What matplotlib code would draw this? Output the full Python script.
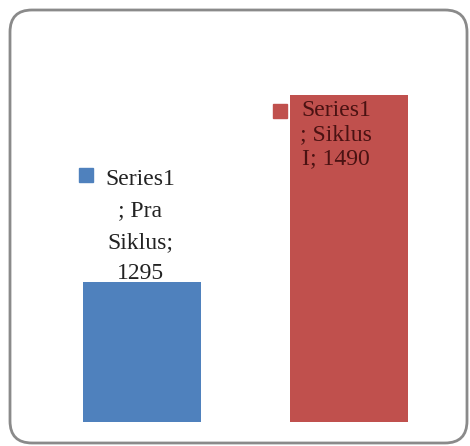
import numpy as np
from matplotlib import pyplot as plt
from matplotlib import transforms
from matplotlib.patches import FancyBboxPatch

series = "Series1"
categories = ["Pra Siklus", "Siklus I"]
values = [1295, 1490]
colors = ["#4F81BD", "#C0504D"]

plt.rcParams['font.family'] = ['Liberation Serif', 'DejaVu Serif']

fig = plt.figure(figsize=(4.70, 4.46), dpi=100)

# rounded chart-area frame, drawn in pixel units
frame = fig.add_axes([0, 0, 1, 1])
frame.set_xlim(0, 470)
frame.set_ylim(446, 0)
frame.axis('off')
frame.add_patch(FancyBboxPatch((10, 10), 457, 433,
                               boxstyle="round,pad=0,rounding_size=22",
                               fc='white', ec='#8a8a8a', lw=2.0))

ax = fig.add_axes([0.082, 0.0545, 0.881, 0.754])
x = np.arange(len(categories))
ax.bar(x, values, width=0.57, color=colors, zorder=2)
ax.set_xlim(-0.5, 1.5)
ax.set_ylim(1150, 1500)
ax.axis('off')

def shifted(dx, dy):
    return ax.transData + transforms.ScaledTranslation(dx / 100, dy / 100, fig.dpi_scale_trans)

# data labels: "series; category; value" with legend key
lab0 = series + "\n; Pra\n" + "Siklus;\n" + str(values[0])
ax.annotate(lab0, (x[0], values[0]), xytext=(-2, -2), textcoords='offset pixels',
            ha='center', va='bottom', fontsize=17, color='#222222',
            linespacing=1.65, zorder=3)
ax.plot([x[0]], [values[0]], marker='s', ms=9.5, color=colors[0],
        transform=shifted(-56, 107), clip_on=False, zorder=3)

lab1 = series + "\n; Siklus\nI; " + str(values[1])
ax.annotate(lab1, (x[1], values[1]), xytext=(-13, -5), textcoords='offset pixels',
            ha='center', va='top', fontsize=17, color='#4a1212',
            linespacing=1.2, zorder=3)
ax.plot([x[1]], [values[1]], marker='s', ms=9.5, color=colors[1],
        transform=shifted(-69, -16), clip_on=False, zorder=3)

plt.savefig("out.png", dpi=100)
